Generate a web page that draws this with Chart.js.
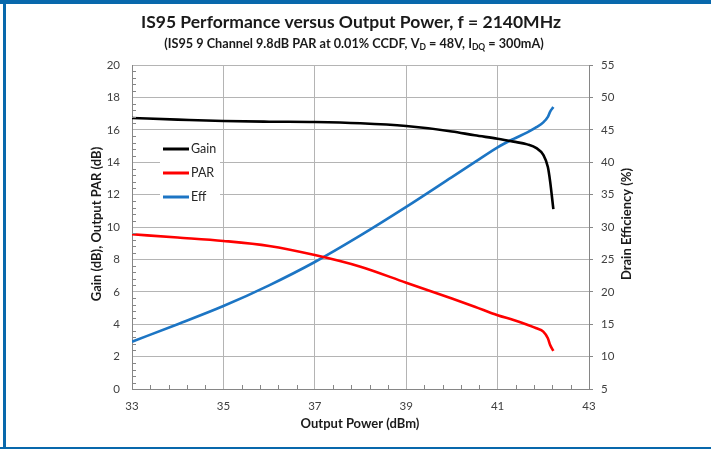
<!DOCTYPE html>
<html>
<head>
<meta charset="utf-8">
<script src="https://cdn.jsdelivr.net/npm/chart.js@4"></script>
<style>
  html, body { margin: 0; padding: 0; background: #fff; }
  #wrap { width: 711px; height: 449px; }
</style>
</head>
<body>
<div id="wrap"><canvas id="is95_chart" width="711" height="449"></canvas></div>
<script>
// values
const xPower = [33, 34, 35, 36, 37, 38, 39, 40, 40.5, 41, 41.35, 41.65, 41.85, 42, 42.1, 42.15, 42.22];
const gainDb = [16.73, 16.63, 16.54, 16.5, 16.48, 16.4, 16.23, 15.9, 15.66, 15.45, 15.27, 15.1, 14.87, 14.45, 13.7, 12.8, 11.1];
const parDb  = [9.55, 9.35, 9.14, 8.83, 8.27, 7.55, 6.56, 5.59, 5.08, 4.55, 4.26, 3.97, 3.75, 3.54, 3.13, 2.72, 2.35];
const effPct = [12.3, 15.0, 17.8, 21.0, 24.6, 28.7, 33.1, 37.7, 40.0, 42.3, 43.6, 44.6, 45.4, 46.15, 47.0, 47.8, 48.5];

const xTicks = [33, 35, 37, 39, 41, 43];
const leftTicks = [0, 2, 4, 6, 8, 10, 12, 14, 16, 18, 20];
const rightTicks = [5, 10, 15, 20, 25, 30, 35, 40, 45, 50, 55];

const seriesNames = ['Gain', 'PAR', 'Eff'];
const seriesColors = ['#000000', '#ff0000', '#1c75c4'];

const FONT = 'Lato, "Open Sans", sans-serif';

function pts(ys) {
  return xPower.map(function (x, i) { return { x: x, y: ys[i] }; });
}

// frame, titles, legend box, minor ticks
const decor = {
  id: 'decor',
  beforeDraw(chart) {
    const ctx = chart.ctx;
    ctx.save();
    ctx.fillStyle = '#fff';
    ctx.fillRect(0, 0, chart.width, chart.height);
    ctx.fillStyle = '#0868ac';
    ctx.fillRect(0, 0, chart.width, 4);
    ctx.fillRect(3, 0, 3, chart.height);
    ctx.fillRect(0, 447, chart.width, 2);
    ctx.restore();
  },
  afterDraw(chart) {
    const ctx = chart.ctx;
    const a = chart.chartArea;
    const sx = chart.scales.x, sy = chart.scales.y;
    ctx.save();

    // minor ticks (inward)
    ctx.strokeStyle = '#868686';
    ctx.lineWidth = 1;
    ctx.beginPath();
    for (let i = 0; i <= 25; i++) {
      const v = 33 + i * 0.4;
      if (i % 5 === 0) continue;
      const px = Math.round(sx.getPixelForValue(v)) + 0.5;
      ctx.moveTo(px, a.bottom); ctx.lineTo(px, a.bottom - 4);
    }
    for (let i = 0; i <= 50; i++) {
      const v = i * 0.4;
      if (i % 5 === 0) continue;
      const py = Math.round(sy.getPixelForValue(v)) + 0.5;
      ctx.moveTo(a.left, py); ctx.lineTo(a.left + 4, py);
    }
    ctx.stroke();

    // titles
    ctx.fillStyle = '#1a1a1a';
    ctx.textAlign = 'center';
    ctx.textBaseline = 'middle';
    ctx.font = 'bold 17.5px ' + FONT;
    ctx.fillText('IS95 Performance versus Output Power, f = 2140MHz', 351, 22);

    const parts = [
      ['(IS95 9 Channel 9.8dB PAR at 0.01% CCDF, V', false],
      ['D', true],
      [' = 48V, I', false],
      ['DQ', true],
      [' = 300mA)', false]
    ];
    const big = 'bold 12.7px ' + FONT, small = 'bold 8.5px ' + FONT;
    let total = 0;
    parts.forEach(function (p) { ctx.font = p[1] ? small : big; total += ctx.measureText(p[0]).width; });
    let cx = 354 - total / 2;
    ctx.textAlign = 'left';
    parts.forEach(function (p) {
      ctx.font = p[1] ? small : big;
      ctx.fillText(p[0], cx, p[1] ? 47.5 : 44);
      cx += ctx.measureText(p[0]).width;
    });

    // axis titles
    ctx.textAlign = 'center';
    ctx.font = 'bold 13px ' + FONT;
    ctx.fillText('Output Power (dBm)', 360, 424);
    ctx.save();
    ctx.translate(97, 224);
    ctx.rotate(-Math.PI / 2);
    ctx.fillText('Gain (dB), Output PAR (dB)', 0, 0);
    ctx.restore();
    ctx.save();
    ctx.translate(627, 224);
    ctx.rotate(-Math.PI / 2);
    ctx.fillText('Drain Efficiency (%)', 0, 0);
    ctx.restore();

    // legend inside the plot
    ctx.fillStyle = '#fff';
    ctx.fillRect(160, 134, 60, 76);
    ctx.font = '12.5px ' + FONT;
    ctx.textAlign = 'left';
    chart.data.datasets.forEach(function (ds, i) {
      const y = 149 + i * 24;
      ctx.strokeStyle = ds.borderColor;
      ctx.lineWidth = 3;
      ctx.beginPath();
      ctx.moveTo(163, y); ctx.lineTo(189, y);
      ctx.stroke();
      ctx.fillStyle = '#262626';
      ctx.fillText(ds.label, 191, y);
    });
    ctx.restore();
  }
};

const config = {
  type: 'line',
  data: {
    datasets: [
      { label: seriesNames[0], data: pts(gainDb), yAxisID: 'y', borderColor: seriesColors[0] },
      { label: seriesNames[1], data: pts(parDb), yAxisID: 'y', borderColor: seriesColors[1] },
      { label: seriesNames[2], data: pts(effPct), yAxisID: 'y2', borderColor: seriesColors[2] }
    ]
  },
  options: {
    responsive: false,
    animation: false,
    layout: { padding: { top: 65, left: 0, right: 0, bottom: 0 } },
    elements: {
      point: { radius: 0 },
      line: { borderWidth: 2.6, cubicInterpolationMode: 'monotone', fill: false }
    },
    plugins: { legend: { display: false }, title: { display: false }, tooltip: { enabled: false } },
    scales: {
      x: {
        type: 'linear', min: 33, max: 43,
        afterBuildTicks(s) { s.ticks = xTicks.map(function (v) { return { value: v }; }); },
        afterFit(s) { s.height = 60; },
        grid: { color: '#b4b4b4', drawTicks: false },
        border: { color: '#868686' },
        ticks: { padding: 10, color: '#404040', font: { family: FONT, size: 11.5 } }
      },
      y: {
        position: 'left', min: 0, max: 20,
        afterBuildTicks(s) { s.ticks = leftTicks.map(function (v) { return { value: v }; }); },
        afterFit(s) { s.width = 132; },
        grid: { color: '#b4b4b4', drawTicks: false },
        border: { color: '#868686' },
        ticks: { padding: 12, color: '#404040', font: { family: FONT, size: 11.5 } }
      },
      y2: {
        position: 'right', min: 5, max: 55,
        afterBuildTicks(s) { s.ticks = rightTicks.map(function (v) { return { value: v }; }); },
        afterFit(s) { s.width = 122; },
        grid: { drawOnChartArea: false, drawTicks: true, tickLength: 4, color: '#868686' },
        border: { color: '#868686' },
        ticks: { padding: 8, color: '#404040', font: { family: FONT, size: 11.5 } }
      }
    }
  },
  plugins: [decor]
};

const is95_chart = new Chart(document.getElementById('is95_chart'), config);
</script>
</body>
</html>
